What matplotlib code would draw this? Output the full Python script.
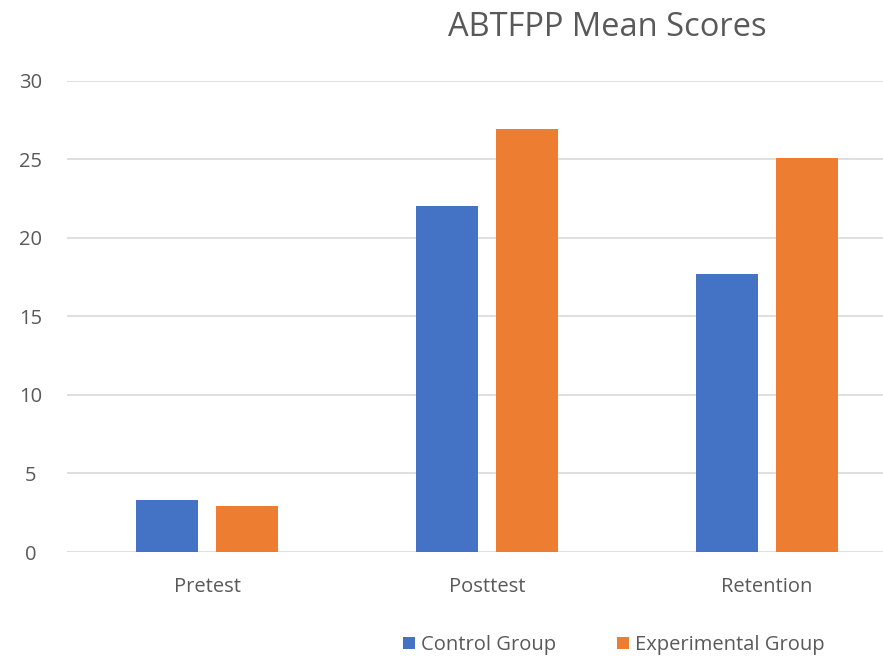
import matplotlib.pyplot as plt
import numpy as np

# raw data
categories = ["Pretest", "Posttest", "Retention"]
control = [3.3, 22.0, 17.7]
experimental = [2.9, 26.9, 25.1]

plt.rcParams['font.family'] = ['Open Sans', 'DejaVu Sans']

fig = plt.figure(figsize=(8.83, 6.63), dpi=100)
# axes run past the right edge, as in the cropped original
ax = fig.add_axes([67 / 883, 1 - 552 / 663, 840 / 883, (552 - 80.5) / 663])

x = np.arange(len(categories))
w = 0.221
ax.bar(x - 0.143, control, w, color="#4472C4", label="Control Group", zorder=3)
ax.bar(x + 0.143, experimental, w, color="#ED7D31", label="Experimental Group", zorder=3)

ax.set_xlim(-0.5, 2.5)
ax.set_ylim(0, 30)
ax.set_yticks(range(0, 31, 5))
ax.set_xticks(x, categories)
ax.grid(axis="y", color="#d9d9d9", linewidth=1.2, zorder=0)
for s in ax.spines.values():
    s.set_visible(False)
ax.tick_params(length=0, labelsize=14.5, colors="#595959")
ax.tick_params(axis="y", pad=26)
ax.tick_params(axis="x", pad=18)
for lbl in ax.get_yticklabels():
    lbl.set_horizontalalignment("center")

fig.text(607 / 883, 1 - 27 / 663, "ABTFPP Mean Scores", ha="center", va="center",
         fontsize=23.5, color="#595959")
fig.legend(loc="center", bbox_to_anchor=(614 / 883, 1 - 645 / 663), ncol=2, frameon=False,
           fontsize=14.5, labelcolor="#595959", handlelength=0.6, handleheight=0.6,
           handletextpad=0.3, columnspacing=3.0)

plt.savefig("out.png")
